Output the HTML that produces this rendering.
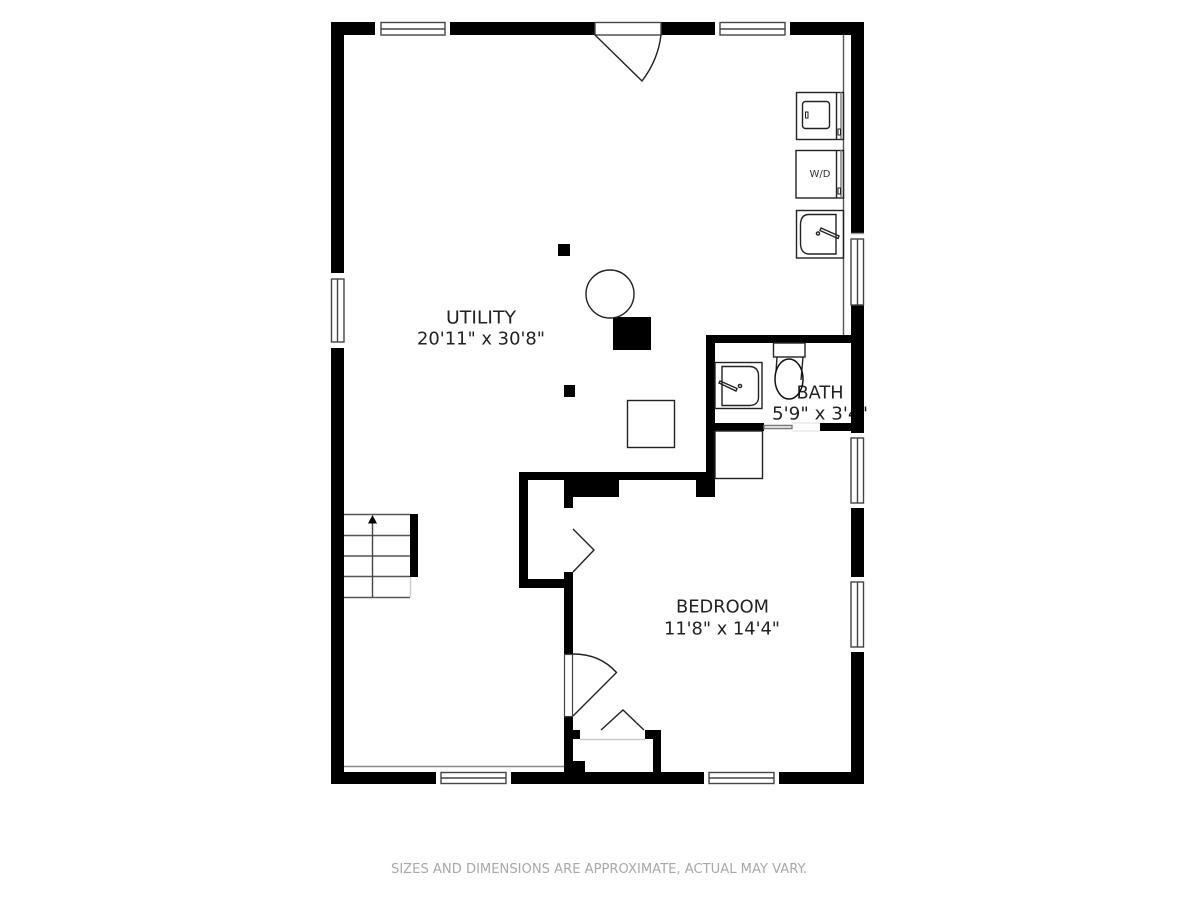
<!DOCTYPE html>
<html><head><meta charset="utf-8"><style>
html,body{margin:0;padding:0;background:#fff}
svg{display:block}
text{font-family:"DejaVu Sans","Liberation Sans",sans-serif;fill:#222;text-anchor:middle}
</style></head><body>
<svg width="1200" height="900" viewBox="0 0 1200 900" xmlns="http://www.w3.org/2000/svg">
<rect width="1200" height="900" fill="#fff"/>
<text x="481" y="323.500" font-size="18" textLength="70" lengthAdjust="spacingAndGlyphs">UTILITY</text>
<text x="481" y="344.500" font-size="18" textLength="128" lengthAdjust="spacingAndGlyphs">20'11" x 30'8"</text>
<text x="722.500" y="612.500" font-size="18" textLength="93" lengthAdjust="spacingAndGlyphs">BEDROOM</text>
<text x="722" y="634.500" font-size="18" textLength="116" lengthAdjust="spacingAndGlyphs">11'8" x 14'4"</text>
<text x="820" y="398.500" font-size="18" textLength="47" lengthAdjust="spacingAndGlyphs">BATH</text>
<text x="820" y="419.500" font-size="18" textLength="96" lengthAdjust="spacingAndGlyphs">5'9" x 3'4"</text>
<text x="599" y="873" font-size="13.100" textLength="416" lengthAdjust="spacingAndGlyphs" style="fill:#a8a8a8">SIZES AND DIMENSIONS ARE APPROXIMATE, ACTUAL MAY VARY.</text>

<g fill="#000">
<rect x="331" y="22" width="533" height="13"/>
<rect x="331" y="22" width="13" height="762"/>
<rect x="851" y="22" width="13" height="762"/>
<rect x="331" y="772" width="533" height="12"/>
<rect x="706" y="335" width="158" height="8"/>
<rect x="706" y="335" width="9" height="162"/>
<rect x="715" y="423" width="49" height="8"/>
<rect x="820" y="423" width="31" height="8"/>
<rect x="696" y="480" width="19" height="17"/>
<rect x="519" y="472" width="196" height="8"/>
<rect x="519" y="472" width="9" height="116"/>
<rect x="519" y="579" width="54" height="9"/>
<rect x="564" y="480" width="9" height="28"/>
<rect x="564" y="480" width="55" height="17"/>
<rect x="564" y="572" width="9" height="83"/>
<rect x="564" y="716" width="9" height="56"/>
<rect x="564" y="730" width="16" height="9"/>
<rect x="564" y="761" width="21" height="12"/>
<rect x="653" y="730" width="8" height="43"/>
<rect x="645" y="730" width="16" height="9"/>
<rect x="410" y="514" width="8" height="63"/>
<rect x="558" y="244" width="12" height="12"/>
<rect x="613" y="317" width="38" height="33"/>
<rect x="564" y="385" width="11" height="12"/>
</g>

<g fill="#fff" stroke="#444" stroke-width="1.400">
<rect x="375" y="22" width="75" height="13" stroke="none"/>
<rect x="381" y="22.500" width="64" height="12.500"/>
<line x1="381" y1="29" x2="445" y2="29"/>
<rect x="715" y="22" width="75" height="13" stroke="none"/>
<rect x="720" y="22.500" width="65" height="12.500"/>
<line x1="720" y1="29" x2="785" y2="29"/>
<rect x="595" y="22.500" width="66" height="12.500"/>
<rect x="331" y="273" width="13" height="75" stroke="none"/>
<rect x="331.500" y="279" width="12.500" height="63"/>
<line x1="337.500" y1="279" x2="337.500" y2="342"/>
<rect x="851" y="233" width="13" height="72" stroke="none"/>
<rect x="851" y="239" width="12.500" height="66"/>
<line x1="857.500" y1="239" x2="857.500" y2="305"/>
<line x1="851" y1="233.500" x2="864" y2="233.500" stroke="#999"/>
<rect x="851" y="433" width="13" height="75" stroke="none"/>
<rect x="851" y="438" width="12.500" height="65"/>
<line x1="857.500" y1="438" x2="857.500" y2="503"/>
<rect x="851" y="577" width="13" height="75" stroke="none"/>
<rect x="851" y="582" width="12.500" height="65"/>
<line x1="857.500" y1="582" x2="857.500" y2="647"/>
<rect x="436" y="772" width="75" height="12" stroke="none"/>
<rect x="441" y="772.500" width="65" height="11"/>
<line x1="441" y1="778" x2="506" y2="778"/>
<rect x="704" y="772" width="75" height="12" stroke="none"/>
<rect x="709" y="772.500" width="65" height="11"/>
<line x1="709" y1="778" x2="774" y2="778"/>
</g>

<g fill="none" stroke="#222" stroke-width="1.400">
<line x1="843.500" y1="35" x2="843.500" y2="335" stroke="#555"/>
<path d="M595 35 L642 81 Q658 60 661 35"/>
<rect x="796.500" y="92.500" width="47" height="47"/>
<line x1="836.500" y1="92" x2="836.500" y2="139"/>
<line x1="841" y1="92" x2="841" y2="139" stroke="#777"/>
<rect x="802.500" y="101.500" width="27" height="27" rx="3"/>
<rect x="805.500" y="112" width="2.500" height="6" stroke-width="1"/>
<rect x="838" y="129" width="2.500" height="6" stroke-width="1"/>
<rect x="796" y="150.500" width="47.500" height="47.500"/>
<line x1="836.500" y1="150" x2="836.500" y2="198"/>
<line x1="841" y1="150" x2="841" y2="198" stroke="#777"/>
<rect x="838" y="188" width="2.500" height="6" stroke-width="1"/>
<rect x="796.500" y="210.500" width="47" height="47.500"/>
<path d="M836 214.500 H808 Q801 215 800.500 224 V244 Q801 253 808 254 H836 Z"/>
<path d="M821 228 L839 236 L838 238.500 L820 230.500 Z"/>
<circle cx="818" cy="233.500" r="1.600"/>
<rect x="715" y="362.500" width="47" height="46"/>
<path d="M722 366.500 H750 Q758 367 758.500 375 V398 Q758 405 750 405.500 H722 Z"/>
<path d="M719 383 L736 391 L737 388.500 L720 381 Z"/>
<circle cx="740" cy="386" r="1.600"/>
<rect x="773.500" y="343" width="31.500" height="14"/>
<path d="M777 357 L776 372 M803 357 L801 380"/>
<ellipse cx="789" cy="379" rx="14" ry="20" stroke="#111" stroke-width="1.500"/>
<rect x="715" y="431" width="47.500" height="47.500"/>
<circle cx="610" cy="294" r="24"/>
<rect x="627.500" y="400.500" width="47" height="47"/>
<path d="M573 529 L594 550 L573 572"/>
<path d="M573 654 Q600 654 616.500 672.500 L573 716"/>
<path d="M601 730 L623 710 L644 730"/>
<line x1="580" y1="739.500" x2="645" y2="739.500" stroke="#ccc"/>
<path d="M764 425.500 H792 V428.500 H764 Z" stroke="#777"/>
<line x1="792" y1="423" x2="820" y2="423" stroke="#ddd" stroke-width="1"/>
<line x1="792" y1="431" x2="820" y2="431" stroke="#ddd" stroke-width="1"/>
<line x1="344" y1="766.500" x2="564" y2="766.500" stroke="#888"/>
<line x1="344" y1="514.500" x2="410" y2="514.500" stroke="#555"/>
<line x1="344" y1="535.500" x2="410" y2="535.500" stroke="#555"/>
<line x1="344" y1="556" x2="410" y2="556" stroke="#555"/>
<line x1="344" y1="576.500" x2="410" y2="576.500" stroke="#555"/>
<line x1="344" y1="597.500" x2="410" y2="597.500" stroke="#555"/>
<line x1="372.500" y1="520" x2="372.500" y2="597" stroke="#444"/>
<line x1="410.500" y1="577" x2="410.500" y2="597" stroke="#ccc"/>
</g>
<rect x="564.500" y="654.500" width="8" height="62" fill="#fff" stroke="#444" stroke-width="1.200"/>
<path d="M372.500 515 L368 523.500 H377 Z" fill="#000"/>
<text x="820" y="177" font-size="10" style="fill:#333">W/D</text>
</svg>
</body></html>
